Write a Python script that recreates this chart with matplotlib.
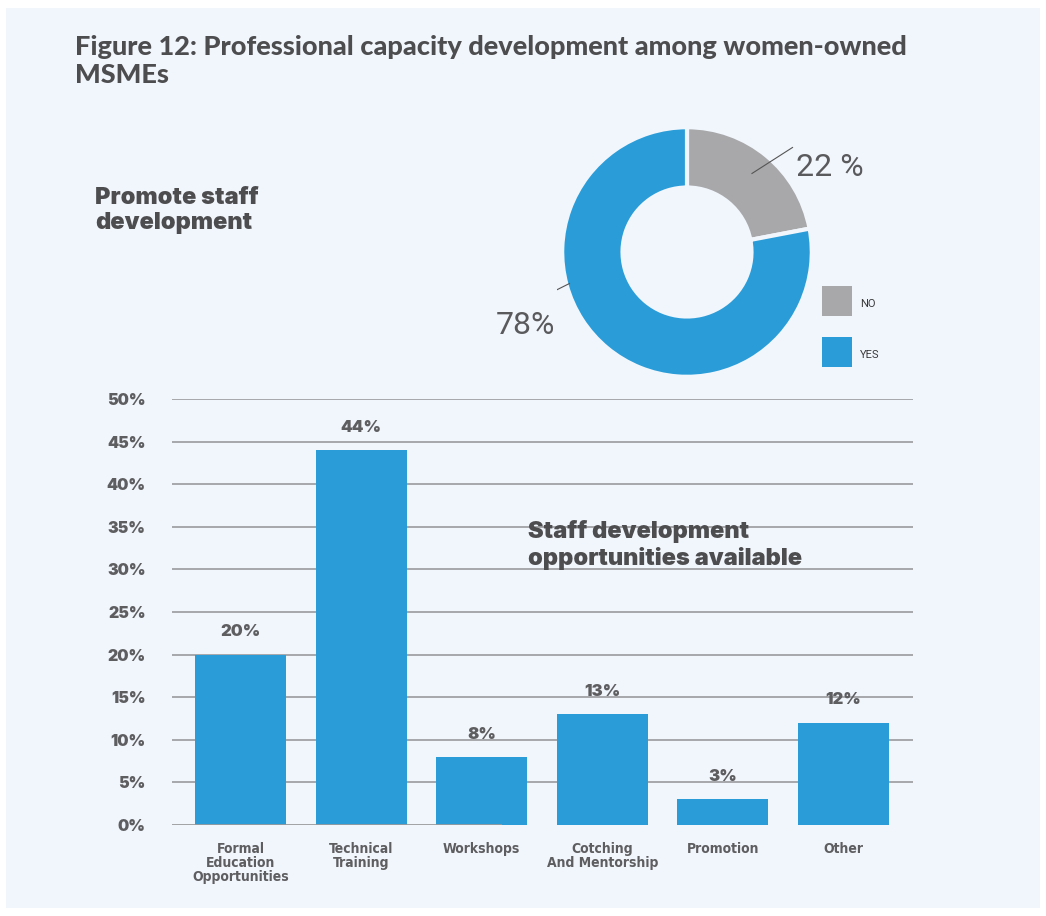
import numpy as np
import matplotlib.pyplot as plt
from matplotlib.patches import Rectangle

# ---- data ----
categories = ['Formal\nEducation\nOpportunities', 'Technical\nTraining', 'Workshops',
              'Cotching\nAnd Mentorship', 'Promotion', 'Other']
shares = [20, 44, 8, 13, 3, 12]
bar_labels = ['20%', '44%', '8%', '13%', '3%', '12%']
yticks = [0, 5, 10, 15, 20, 25, 30, 35, 40, 45, 50]

donut_labels = ['NO', 'YES']
donut_values = [22, 78]
donut_text = ['22 %', '78%']

# ---- style ----
BLUE = '#2A9DD8'
GREY = '#A8A8AA'
PANEL = '#F1F6FD'
TXT = '#4D4D4F'
TICK = '#5E5E60'
GRID = '#9A9A9C'

W, H = 1046, 916
fig = plt.figure(figsize=(W / 100, H / 100), dpi=100, facecolor='white')
fig.patches.append(Rectangle((6 / W, 8 / H), (1040 - 6) / W, (908 - 8) / H,
                             transform=fig.transFigure, facecolor=PANEL,
                             edgecolor='none', zorder=-10))

def px(x, y):
    return x / W, 1 - y / H

head = ['Inter', 'Lato', 'DejaVu Sans']
title_font = ['Lato', 'DejaVu Sans']

fig.text(*px(75, 83), 'Figure 12: Professional capacity development among women-owned\nMSMEs',
         fontsize=19.5, fontweight='black', color=TXT, family=title_font,
         va='baseline', linespacing=1.2)
fig.text(*px(95, 229), 'Promote staff\ndevelopment', fontsize=17, fontweight='black',
         color=TXT, family=head, va='baseline', linespacing=1.2)

# ---- donut ----
cx, cy, half = 687, 252, 130
dax = fig.add_axes([(cx - half) / W, (H - cy - half) / H, 2 * half / W, 2 * half / H])
dax.set_xlim(-1.3, 1.3)
dax.set_ylim(-1.3, 1.3)
dax.set_aspect('equal')
dax.axis('off')
wedges, _ = dax.pie(donut_values, colors=[GREY, BLUE], startangle=90, counterclock=False,
                    radius=1.2, wedgeprops=dict(width=0.58, edgecolor=PANEL, linewidth=3))

# leader line for the NO share at the middle of its wedge
a0 = np.deg2rad((wedges[0].theta1 + wedges[0].theta2) / 2)
p0 = (0.98 * np.cos(a0), 0.98 * np.sin(a0))
dax.plot([p0[0], p0[0] + 0.39], [p0[1], p0[1] + 0.25], color='#555555', lw=0.8)
dax.text(p0[0] + 0.42, p0[1] + 0.06, donut_text[0], fontsize=23, color='#5A5A5C',
         family=['Roboto', 'DejaVu Sans'], fontweight='normal', va='center', ha='left')
a1 = np.deg2rad(195)
p1 = (1.17 * np.cos(a1), 1.17 * np.sin(a1))
dax.plot([p1[0], p1[0] - 0.42], [p1[1], p1[1] - 0.21], color='#555555', lw=0.8)
fig.text(*px(496, 326), donut_text[1], fontsize=23, color='#5A5A5C',
         family=['Roboto', 'DejaVu Sans'], fontweight='normal', va='center', ha='left')

# legend squares
for (ytop, col, lab) in [(286, GREY, donut_labels[0]), (337, BLUE, donut_labels[1])]:
    fig.patches.append(Rectangle(px(822, ytop + 30), 30 / W, 30 / H,
                                 transform=fig.transFigure, facecolor=col, edgecolor='none'))
    fig.text(*px(860, ytop + 18), lab, fontsize=8, color='#3A3A3A',
             family=['Roboto', 'DejaVu Sans'], va='center', ha='left')

# ---- bar chart ----
ax = fig.add_axes([172 / W, 91 / H, (913 - 172) / W, (825 - 399) / H])
ax.set_facecolor('none')
x = np.arange(len(categories))
ax.bar(x, shares, width=0.755, color=BLUE, zorder=3)
ax.set_xlim(-0.568, 5.576)
ax.set_ylim(0, 50)
for v in yticks[1:]:
    ax.axhline(v, color=GRID, lw=1.2, zorder=1)
ax.axhline(0, xmax=(500 - 172) / (913 - 172), color=GRID, lw=2, zorder=4)
for s in ax.spines.values():
    s.set_visible(False)
ax.set_yticks(yticks)
ax.set_yticklabels([f'{v}%' for v in yticks], fontsize=11.5, fontweight='black',
                   color=TICK, family=head)
ax.tick_params(axis='y', length=0, pad=19)
ax.set_xticks(x)
ax.set_xticklabels(categories, fontsize=10, fontweight='bold', color=TICK,
                   family=['Liberation Sans Narrow', 'DejaVu Sans'], fontstretch='condensed',
                   linespacing=1.0)
ax.tick_params(axis='x', length=0, pad=12)

for xi, v, lab in zip(x, shares, bar_labels):
    ax.annotate(lab, (xi, v), xytext=(0, 11), textcoords='offset points',
                ha='center', va='bottom', fontsize=12, fontweight='black',
                color=TICK, family=head)

fig.text(*px(528, 565), 'Staff development\nopportunities available', fontsize=17,
         fontweight='black', color=TXT, family=head, va='baseline', linespacing=1.2,
         zorder=5)

plt.savefig('out.png', dpi=100, facecolor='white')
